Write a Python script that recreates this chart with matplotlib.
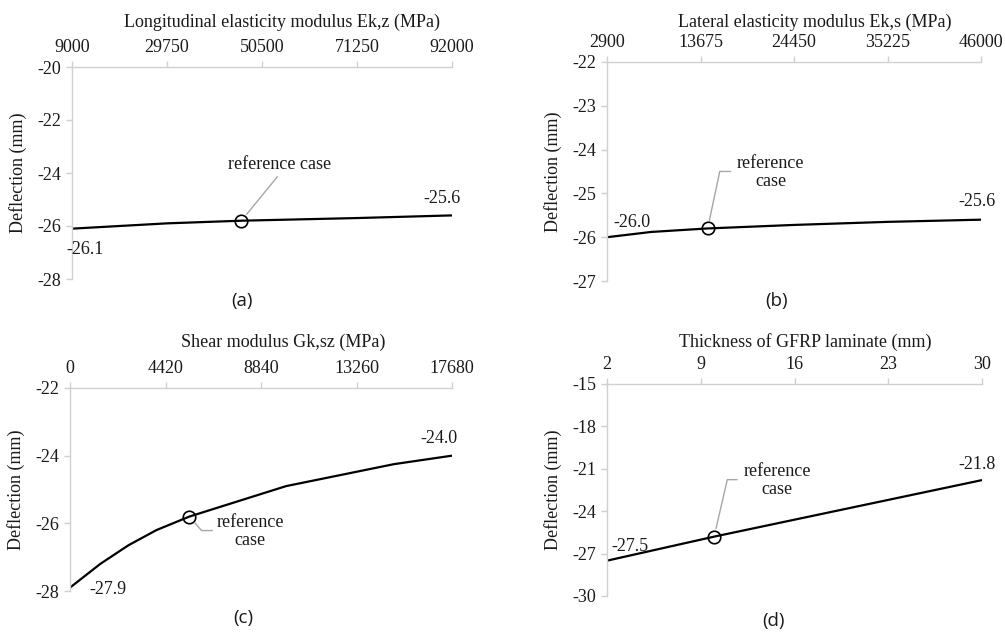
import matplotlib
matplotlib.use('Agg')
import matplotlib.pyplot as plt

# (a) longitudinal elasticity modulus
ekz = [9000, 29750, 46000, 71250, 92000]
defl_a = [-26.1, -25.9, -25.8, -25.7, -25.6]
ticks_a = [9000, 29750, 50500, 71250, 92000]
yticks_a = [-28, -26, -24, -22, -20]

# (b) lateral elasticity modulus
eks = [2900, 8000, 14500, 24450, 35225, 46000]
defl_b = [-26.0, -25.88, -25.8, -25.72, -25.65, -25.6]
ticks_b = [2900, 13675, 24450, 35225, 46000]
yticks_b = [-27, -26, -25, -24, -23, -22]

# (c) shear modulus
gksz = [0, 1400, 2700, 4000, 5525, 10000, 15000, 17680]
defl_c = [-27.9, -27.2, -26.65, -26.2, -25.8, -24.9, -24.25, -24.0]
ticks_c = [0, 4420, 8840, 13260, 17680]
yticks_c = [-28, -26, -24, -22]

# (d) thickness of GFRP laminate
thick = [2, 10, 16, 23, 30]
defl_d = [-27.5, -25.8, -24.6, -23.2, -21.8]
ticks_d = [2, 9, 16, 23, 30]
yticks_d = [-30, -27, -24, -21, -18, -15]

W, H = 1005, 633
fig = plt.figure(figsize=(W / 100, H / 100), dpi=100)

serif = 'Liberation Serif'
fs = 13
txt = '#1a1a1a'
grey = '#d0d0d0'
lead = '#a6a6a6'


def make_ax(l, t, r, b):
    ax = fig.add_axes([l / W, 1 - b / H, (r - l) / W, (b - t) / H])
    for s in ['right', 'bottom']:
        ax.spines[s].set_visible(False)
    for s in ['left', 'top']:
        ax.spines[s].set_color(grey)
        ax.spines[s].set_linewidth(1.0)
    ax.xaxis.tick_top()
    ax.xaxis.set_label_position('top')
    ax.tick_params(axis='both', direction='out', length=4, width=1.0,
                   color=grey, labelcolor=txt, labelsize=fs, pad=4)
    return ax


def panel(box, x, y, ref, xt, yt, xlabel, xlab_pos, ylab_x,
          start_off, end_off, ref_text, text_off, leader):
    ax = make_ax(*box)
    ax.plot(x, y, color='black', lw=1.6, solid_capstyle='butt')
    i = x.index(ref)
    ax.plot([x[i]], [y[i]], 'o', mfc='none', mec='black', ms=9, mew=1.2)
    ax.set_xlim(xt[0], xt[-1])
    ax.set_ylim(yt[0], yt[-1])
    ax.set_xticks(xt)
    ax.set_yticks(yt)
    ax.set_xticklabels([str(v) for v in xt], family=serif)
    ax.set_yticklabels([str(v) for v in yt], family=serif)
    ax.set_xlabel(xlabel, family=serif, fontsize=fs, color=txt)
    ax.xaxis.set_label_coords(*xlab_pos)
    ax.xaxis.label.set_va('center')
    ax.set_ylabel('Deflection (mm)', family=serif, fontsize=fs, color=txt)
    ax.yaxis.set_label_coords(ylab_x, 0.5)
    ax.yaxis.label.set_va('center')
    # end values
    ax.annotate('%.1f' % y[0], (x[0], y[0]), xytext=start_off,
                textcoords='offset pixels', ha='center', va='center',
                family=serif, fontsize=fs, color=txt, annotation_clip=False)
    ax.annotate('%.1f' % y[-1], (x[-1], y[-1]), xytext=end_off,
                textcoords='offset pixels', ha='center', va='center',
                family=serif, fontsize=fs, color=txt, annotation_clip=False)
    # reference case callout
    ax.annotate(ref_text, (x[i], y[i]), xytext=text_off,
                textcoords='offset pixels', ha='center', va='center',
                family=serif, fontsize=fs, color=txt, linespacing=1.1)
    end, cs = leader
    ax.annotate('', (x[i], y[i]), xytext=end, textcoords='offset pixels',
                arrowprops=dict(arrowstyle='-', color=lead, lw=1.0,
                                shrinkA=0, shrinkB=6, connectionstyle=cs))
    return ax


panel((72, 67, 452, 279), ekz, defl_a, 46000, ticks_a, yticks_a,
      'Longitudinal elasticity modulus Ek,z (MPa)', (0.553, 1.212), -0.142,
      (13, -21), (-10, 17), 'reference case', (38, 56),
      ((36, 44), 'arc3,rad=0'))

panel((607, 62, 981, 281), eks, defl_b, 14500, ticks_b, yticks_b,
      'Lateral elasticity modulus Ek,s (MPa)', (0.556, 1.183), -0.144,
      (25, 15), (-4, 18), 'reference\ncase', (63, 56),
      ((23, 57), 'angle,angleA=0,angleB=78,rad=0'))

panel((70, 388, 452, 591), gksz, defl_c, 5525, ticks_c, yticks_c,
      'Shear modulus Gk,sz (MPa)', (0.558, 1.227), -0.141,
      (38, -2), (-13, 17), 'reference\ncase', (61, -15),
      ((23, -14), 'angle,angleA=0,angleB=-49,rad=0'))

panel((607, 384, 982, 596), thick, defl_d, 10, ticks_d, yticks_d,
      'Thickness of GFRP laminate (mm)', (0.528, 1.198), -0.144,
      (23, 14), (-5, 16), 'reference\ncase', (63, 56),
      ((23, 57), 'angle,angleA=0,angleB=77,rad=0'))

sub = dict(fontsize=13.5, family='Open Sans', color=txt, ha='center', va='center')
fig.text(242 / W, 1 - 301 / H, '(a)', **sub)
fig.text(777 / W, 1 - 301 / H, '(b)', **sub)
fig.text(243 / W, 1 - 618 / H, '(c)', **sub)
fig.text(773 / W, 1 - 621 / H, '(d)', **sub)

fig.savefig('out.png', dpi=100, facecolor='white')
